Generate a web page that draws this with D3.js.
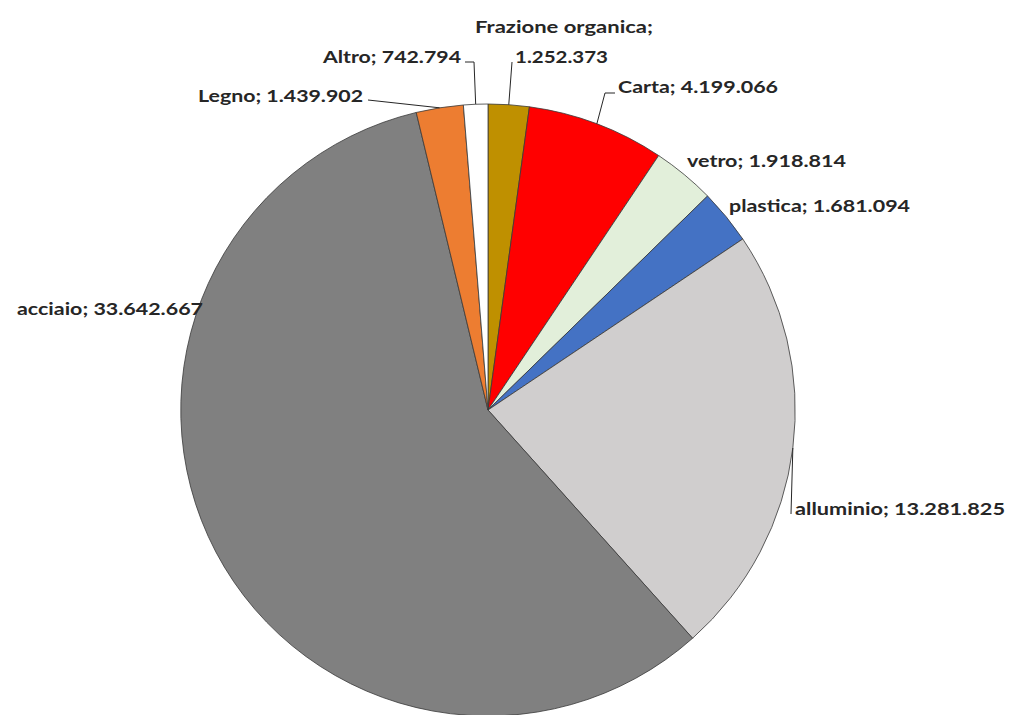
<!DOCTYPE html>
<html><head><meta charset="utf-8">
<script src="https://cdn.jsdelivr.net/npm/d3@7"></script>
<style>html,body{margin:0;padding:0;background:#fff;}svg{display:block;}</style>
</head><body>
<svg id="c" width="1009" height="715"></svg>
<script>
const categories = ["Frazione organica","Carta","vetro","plastica","alluminio","acciaio","Legno","Altro"];
const values = [1252373,4199066,1918814,1681094,13281825,33642667,1439902,742794];
const valueLabels = ["1.252.373","4.199.066","1.918.814","1.681.094","13.281.825","33.642.667","1.439.902","742.794"];
const colors = ["#BF9000","#FF0000","#E2EFDA","#4472C4","#D0CECE","#808080","#ED7D31","#FFFFFF"];

const W=1009,H=715,cx=488,cy=410,R=306;
const svg=d3.select("#c");
const g=svg.append("g").attr("transform",`translate(${cx},${cy}) scale(1.004,1)`);
const data=categories.map((c,i)=>({cat:c,val:values[i],lab:valueLabels[i],col:colors[i]}));
const pie=d3.pie().value(d=>d.val).sort(null);
const arcs=pie(data);
const arc=d3.arc().innerRadius(0).outerRadius(R);
g.selectAll("path").data(arcs).join("path")
 .attr("d",arc).attr("fill",d=>d.data.col)
 .attr("stroke","#3a3a3a").attr("stroke-width",0.8).attr("stroke-linejoin","round");

const font="Lato, 'Open Sans', sans-serif";
const labelPos = {
 "Frazione organica": {lines:["Frazione organica;","1.252.373"], x:[475,515], y:[33,63], w:[178,93], lead:[[512,62]]},
 "Carta": {x:[618],y:[93],w:[160],lead:[[605,93],[615,93]]},
 "vetro": {x:[687],y:[167],w:[159]},
 "plastica": {x:[729],y:[212],w:[181]},
 "alluminio": {x:[795],y:[515],w:[210],lead:[[791,514]]},
 "acciaio": {x:[17],y:[315],w:[186]},
 "Legno": {x:[198],y:[102],w:[165],lead:[[368,100]]},
 "Altro": {x:[323],y:[63],w:[138],lead:[[474,62],[465,62]]}
};
const lg=svg.append("g");
arcs.forEach(a=>{
 const p=labelPos[a.data.cat];
 const lines=p.lines||[a.data.cat+"; "+a.data.lab];
 lines.forEach((t,i)=>{
  lg.append("text").attr("x",p.x[i]).attr("y",p.y[i])
   .attr("font-family",font).attr("font-weight","bold").attr("font-size",17)
   .attr("textLength",p.w[i]).attr("lengthAdjust","spacingAndGlyphs")
   .attr("fill","#262626").text(t);
 });
 if(p.lead){
  const mid=(a.startAngle+a.endAngle)/2;
  const pts=[[cx+R*1.004*Math.sin(mid),cy-R*Math.cos(mid)]].concat(p.lead);
  lg.append("path").attr("d",d3.line()(pts)).attr("fill","none").attr("stroke","#262626").attr("stroke-width",1);
 }
});
</script>
</body></html>
